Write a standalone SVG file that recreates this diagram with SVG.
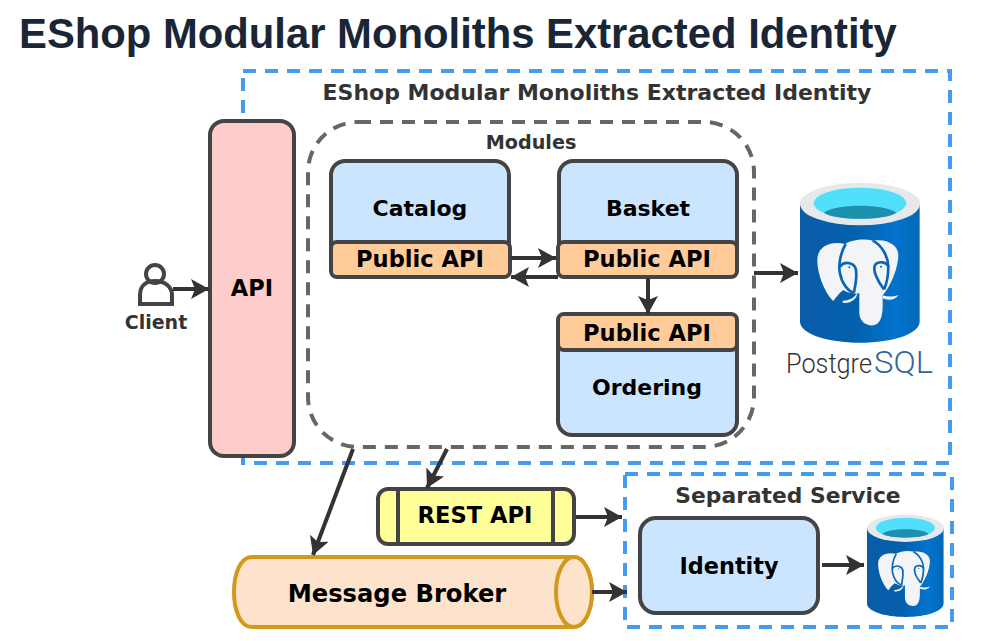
<svg xmlns="http://www.w3.org/2000/svg" width="982" height="641" viewBox="0 0 982 641">
<style>
text{font-family:"DejaVu Sans",sans-serif;font-weight:700;text-anchor:middle;fill:#000}
.t{fill:#333}
.box{stroke:#444;stroke-width:4}
.blue{fill:#cce5ff}
.org{fill:#ffcc99}
.dash{fill:none;stroke:#429cf0;stroke-width:4;stroke-dasharray:13 9}
text.pg{font-family:Roboto,'Liberation Sans',sans-serif;font-weight:300;text-anchor:start}
text.pg1{fill:#333}
text.pg2{fill:#336699}
.conn line{stroke:#333;stroke-width:4;fill:none;marker-end:url(#a)}
</style>
<defs>
<marker id="a" markerUnits="userSpaceOnUse" markerWidth="24" markerHeight="24" refX="18" refY="12" orient="auto">
<path d="M0,2 L18,12 L0,22 L4,12 Z" fill="#333"/>
</marker>
<linearGradient id="dbg" x1="0" x2="1" y1="0" y2="0">
<stop offset="0" stop-color="#0a5ca8"/><stop offset=".45" stop-color="#0460ac"/><stop offset=".8" stop-color="#0273cc"/><stop offset="1" stop-color="#0268b8"/>
</linearGradient>
<g id="db">
<path d="M60,102 V455 C60,490 140,518 240,518 C340,518 419,490 419,455 V102 Z" fill="url(#dbg)"/>
<ellipse cx="240" cy="102" rx="180" ry="64" fill="#e6e8ea"/>
<ellipse cx="240" cy="100" rx="139" ry="47" fill="#50e0fb"/>
<path d="M132,128 C165,100 315,100 349,128 C315,152 165,152 132,128 Z" fill="#1f8fae"/>
<path d="M195,222 C150,212 112,230 112,270 C112,320 140,375 160,393 C170,380 178,368 190,360 C205,370 225,372 238,370 L238,430 C240,460 265,470 285,465 C305,458 308,430 308,405 L308,375 C325,360 355,300 355,255 C355,225 320,205 280,212 C250,205 215,210 195,222 Z" fill="#f2f4f7"/>
<g fill="none" stroke="#0a66b4" stroke-width="8">
<path d="M197,222 C180,250 175,290 180,310 C185,340 205,365 222,368"/>
<path d="M180,290 C195,270 225,280 228,300 C232,330 224,350 222,368"/>
<path d="M278,212 C305,225 325,260 325,290 C325,320 318,345 312,358"/>
<path d="M312,358 C290,330 278,300 285,285 C295,272 320,275 325,290"/>
</g>
<path d="M188,392 C205,392 225,385 232,366 C232,390 208,402 188,398 Z" fill="#f2f4f7"/>
<path d="M308,376 C325,382 340,380 355,375 C345,392 320,392 308,385 Z" fill="#f2f4f7"/>
<circle cx="208" cy="292" r="3" fill="#0a66b4"/><circle cx="303" cy="290" r="3" fill="#0a66b4"/>
</g>
</defs>
<rect width="982" height="641" fill="#fff"/>
<text x="19" y="48" style="font-family:'Liberation Sans',Arial,sans-serif;font-size:41.8px;text-anchor:start;fill:#1a2535">EShop Modular Monoliths Extracted Identity</text>

<g id="outer-boundary">
<rect class="dash" x="243" y="71" width="707" height="392"/>
<text class="t" x="597" y="100" font-size="22">EShop Modular Monoliths Extracted Identity</text>
</g>
<g id="separated-boundary">
<rect class="dash" x="625" y="474" width="327" height="153"/>
<text class="t" x="788" y="503" font-size="21.8">Separated Service</text>
</g>
<g id="modules">
<rect x="308" y="122" width="446" height="325" rx="50" fill="none" stroke="#666" stroke-width="4" stroke-dasharray="13 9"/>
<text class="t" x="531" y="149" font-size="19.2">Modules</text>
</g>
<g id="api">
<rect class="box" x="210" y="121" width="84" height="335" rx="14" fill="#ffcccc"/>
<text x="252" y="296" font-size="22.5">API</text>
</g>
<g id="client">
<circle cx="155" cy="274" r="9" fill="none" stroke="#444" stroke-width="4"/>
<path d="M140,304 V295 C140,285 147,281 155,281 C165,281 172,287 172,295 V304 Z" fill="none" stroke="#444" stroke-width="4"/>
<text class="t" x="156" y="329" font-size="19">Client</text>
</g>
<g id="catalog">
<rect class="box blue" x="331" y="161" width="178" height="116" rx="14"/>
<rect class="box org" x="331" y="242" width="179" height="35" rx="6"/>
<text x="420" y="216" font-size="22">Catalog</text>
<text x="420" y="267" font-size="22.6">Public API</text>
</g>
<g id="basket">
<rect class="box blue" x="559" y="161" width="178" height="116" rx="14"/>
<rect class="box org" x="558" y="242" width="179" height="35" rx="6"/>
<text x="648" y="216" font-size="22">Basket</text>
<text x="647" y="267" font-size="22.6">Public API</text>
</g>
<g id="ordering">
<rect class="box blue" x="558" y="314" width="179" height="121" rx="14"/>
<rect class="box org" x="558" y="314" width="179" height="36" rx="6"/>
<text x="647" y="341" font-size="22.6">Public API</text>
<text x="647" y="395" font-size="22">Ordering</text>
</g>
<g id="postgres">
<use href="#db" transform="translate(780,170) scale(.3333)"/>
<text class="pg pg1" x="786" y="373" font-size="27" textLength="86" lengthAdjust="spacingAndGlyphs">Postgre</text>
<text class="pg pg2" x="874" y="373" font-size="31" textLength="59" lengthAdjust="spacingAndGlyphs">SQL</text>
</g>
<g id="rest-api">
<rect class="box" x="378" y="489" width="196" height="55" rx="10" fill="#ffff99"/>
<path class="box" d="M398,489 V544 M553,489 V544" fill="none"/>
<text x="475" y="523" font-size="22.6">REST API</text>
</g>
<g id="message-broker">
<path d="M252,557 H574 A18,35 0 0 1 574,627 H252 C228,627 228,557 252,557 Z" fill="#fde3cc" stroke="#d29a1c" stroke-width="4"/>
<ellipse cx="574" cy="592" rx="18" ry="35" fill="#fde3cc" stroke="#d29a1c" stroke-width="4"/>
<text x="397" y="602" font-size="24.2">Message Broker</text>
</g>
<g id="identity">
<rect class="box blue" x="640" y="518" width="178" height="95" rx="16"/>
<text x="729" y="574" font-size="22.4">Identity</text>
</g>
<g id="identity-db">
<use href="#db" transform="translate(854.2,506.5) scale(.2133)"/>
</g>
<g id="connectors" class="conn">
<line x1="173" y1="289" x2="209" y2="289"/>
<line x1="511" y1="258" x2="556" y2="258"/>
<line x1="558" y1="277" x2="511" y2="277"/>
<line x1="648" y1="278" x2="648" y2="314"/>
<line x1="754" y1="273" x2="798" y2="273"/>
<line x1="353" y1="449" x2="313" y2="555"/>
<line x1="447" y1="449" x2="427" y2="488"/>
<line x1="576" y1="517" x2="622" y2="517"/>
<line x1="592" y1="592" x2="627" y2="592"/>
<line x1="822" y1="565" x2="864" y2="565"/>
</g>
</svg>
